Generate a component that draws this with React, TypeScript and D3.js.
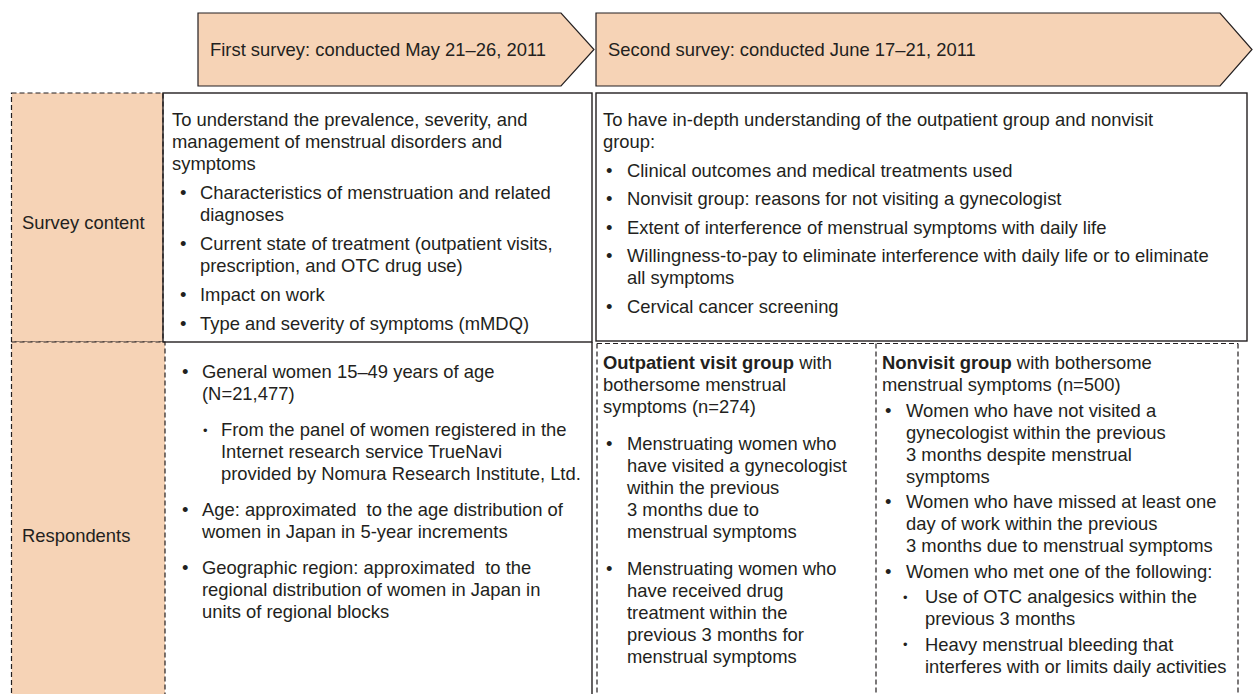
import { useEffect, useRef } from "react";
import * as d3 from "d3";

type Para = { kind: "intro" | "head" | "bullet" | "sub"; lines: string[]; bold?: string };

const ARROW_LABELS = [
  "First survey: conducted May 21–26, 2011",
  "Second survey: conducted June 17–21, 2011",
];

const ROW_LABELS = ["Survey content", "Respondents"];

const FIRST_CONTENT: Para[] = [
  {
    kind: "intro",
    lines: [
      "To understand the prevalence, severity, and",
      "management of menstrual disorders and",
      "symptoms",
    ],
  },
  { kind: "bullet", lines: ["Characteristics of menstruation and related", "diagnoses"] },
  {
    kind: "bullet",
    lines: ["Current state of treatment (outpatient visits,", "prescription, and OTC drug use)"],
  },
  { kind: "bullet", lines: ["Impact on work"] },
  { kind: "bullet", lines: ["Type and severity of symptoms (mMDQ)"] },
];

const SECOND_CONTENT: Para[] = [
  {
    kind: "intro",
    lines: ["To have in-depth understanding of the outpatient group and nonvisit", "group:"],
  },
  { kind: "bullet", lines: ["Clinical outcomes and medical treatments used"] },
  { kind: "bullet", lines: ["Nonvisit group: reasons for not visiting a gynecologist"] },
  { kind: "bullet", lines: ["Extent of interference of menstrual symptoms with daily life"] },
  {
    kind: "bullet",
    lines: [
      "Willingness-to-pay to eliminate interference with daily life or to eliminate",
      "all symptoms",
    ],
  },
  { kind: "bullet", lines: ["Cervical cancer screening"] },
];

const FIRST_RESPONDENTS: Para[] = [
  { kind: "bullet", lines: ["General women 15–49 years of age", "(N=21,477)"] },
  {
    kind: "sub",
    lines: [
      "From the panel of women registered in the",
      "Internet research service TrueNavi",
      "provided by Nomura Research Institute, Ltd.",
    ],
  },
  {
    kind: "bullet",
    lines: ["Age: approximated  to the age distribution of", "women in Japan in 5-year increments"],
  },
  {
    kind: "bullet",
    lines: [
      "Geographic region: approximated  to the",
      "regional distribution of women in Japan in",
      "units of regional blocks",
    ],
  },
];

const OUTPATIENT: Para[] = [
  {
    kind: "head",
    bold: "Outpatient visit group",
    lines: ["Outpatient visit group with", "bothersome menstrual", "symptoms (n=274)"],
  },
  {
    kind: "bullet",
    lines: [
      "Menstruating women who",
      "have visited a gynecologist",
      "within the previous",
      "3 months due to",
      "menstrual symptoms",
    ],
  },
  {
    kind: "bullet",
    lines: [
      "Menstruating women who",
      "have received drug",
      "treatment within the",
      "previous 3 months for",
      "menstrual symptoms",
    ],
  },
];

const NONVISIT: Para[] = [
  {
    kind: "head",
    bold: "Nonvisit group",
    lines: ["Nonvisit group with bothersome", "menstrual symptoms (n=500)"],
  },
  {
    kind: "bullet",
    lines: [
      "Women who have not visited a",
      "gynecologist within the previous",
      "3 months despite menstrual",
      "symptoms",
    ],
  },
  {
    kind: "bullet",
    lines: [
      "Women who have missed at least one",
      "day of work within the previous",
      "3 months due to menstrual symptoms",
    ],
  },
  { kind: "bullet", lines: ["Women who met one of the following:"] },
  { kind: "sub", lines: ["Use of OTC analgesics within the", "previous 3 months"] },
  {
    kind: "sub",
    lines: ["Heavy menstrual bleeding that", "interferes with or limits daily activities"],
  },
];

const W = 1255;
const H = 694;
const FONT = "'Liberation Sans', Arial, Helvetica, sans-serif";
const FS = 18.4;
const INK = "#231f20";
const PEACH = "#f6d3b6";

export default function App() {
  const ref = useRef<SVGSVGElement | null>(null);

  useEffect(() => {
    const svg = d3.select(ref.current);
    svg.selectAll("*").remove();

    // arrows along the top
    const arrows = [
      { x0: 198, x1: 561, tip: 594 },
      { x0: 596, x1: 1220, tip: 1252 },
    ];
    const aTop = 13;
    const aBot = 86;
    const aMid = (aTop + aBot) / 2;
    arrows.forEach((a, i) => {
      svg
        .append("path")
        .attr(
          "d",
          `M${a.x0},${aTop}L${a.x1},${aTop}L${a.tip},${aMid}L${a.x1},${aBot}L${a.x0},${aBot}Z`,
        )
        .attr("fill", PEACH)
        .attr("stroke", INK)
        .attr("stroke-width", 1.2);
      svg
        .append("text")
        .attr("x", a.x0 + 12)
        .attr("y", aMid)
        .attr("dy", "0.35em")
        .attr("font-family", FONT)
        .attr("font-size", FS)
        .attr("fill", INK)
        .text(ARROW_LABELS[i]);
    });

    const rowTop = 93;
    const rowMid = 342;

    // left label column (dashed, peach)
    const dash = "5,3";
    [
      { y0: rowTop, y1: rowMid, x1: 163 },
      { y0: rowMid, y1: H + 30, x1: 165 },
    ].forEach((r) => {
      svg
        .append("rect")
        .attr("x", 11.5)
        .attr("y", r.y0)
        .attr("width", r.x1 - 11.5)
        .attr("height", r.y1 - r.y0)
        .attr("fill", PEACH)
        .attr("stroke", INK)
        .attr("stroke-width", 1.2)
        .attr("stroke-dasharray", dash);
    });
    svg
      .selectAll("text.rowlab")
      .data(ROW_LABELS)
      .join("text")
      .attr("class", "rowlab")
      .attr("x", 22)
      .attr("y", (_d, i) => (i === 0 ? 223 : 536))
      .attr("dy", "0.35em")
      .attr("font-family", FONT)
      .attr("font-size", FS)
      .attr("fill", INK)
      .text((d) => d);

    // solid boxes
    svg
      .append("rect")
      .attr("x", 163)
      .attr("y", rowTop)
      .attr("width", 592 - 163)
      .attr("height", rowMid - rowTop)
      .attr("fill", "none")
      .attr("stroke", INK)
      .attr("stroke-width", 1.4);
    svg
      .append("rect")
      .attr("x", 596)
      .attr("y", rowTop)
      .attr("width", 1247 - 596)
      .attr("height", 341 - rowTop)
      .attr("fill", "none")
      .attr("stroke", INK)
      .attr("stroke-width", 1.4);
    svg
      .append("line")
      .attr("x1", 592)
      .attr("x2", 592)
      .attr("y1", rowMid)
      .attr("y2", H + 10)
      .attr("stroke", INK)
      .attr("stroke-width", 1.4);

    // dashed respondents boxes on the right
    const dashed = (x1: number, y1: number, x2: number, y2: number) =>
      svg
        .append("line")
        .attr("x1", x1)
        .attr("y1", y1)
        .attr("x2", x2)
        .attr("y2", y2)
        .attr("stroke", INK)
        .attr("stroke-width", 1.2)
        .attr("stroke-dasharray", dash);
    dashed(597, 343.5, 1238, 343.5);
    [597, 876, 1238].forEach((x) => dashed(x, 343.5, x, H + 10));

    // text blocks
    const blocks = [
      { paras: FIRST_CONTENT, x: 172, bx: 180, tx: 200, sbx: 203, stx: 221, y0: 120, lh: 22, gap: 7 },
      { paras: SECOND_CONTENT, x: 603, bx: 606, tx: 627, sbx: 630, stx: 648, y0: 120, lh: 22, gap: 6.5 },
      { paras: FIRST_RESPONDENTS, x: 172, bx: 182, tx: 202, sbx: 203, stx: 221, y0: 372, lh: 22, gap: 14 },
      { paras: OUTPATIENT, x: 603, bx: 606, tx: 627, sbx: 630, stx: 648, y0: 363, lh: 22, gap: 15 },
      { paras: NONVISIT, x: 882, bx: 885, tx: 906, sbx: 903, stx: 925, y0: 363, lh: 22, gap: 3.5 },
    ];

    blocks.forEach((b) => {
      const g = svg
        .append("g")
        .attr("font-family", FONT)
        .attr("font-size", FS)
        .attr("fill", INK);
      let y = b.y0;
      b.paras.forEach((p, pi) => {
        if (pi > 0) y += b.gap;
        const textX = p.kind === "bullet" ? b.tx : p.kind === "sub" ? b.stx : b.x;
        if (p.kind === "bullet" || p.kind === "sub") {
          g.append("text")
            .attr("x", p.kind === "bullet" ? b.bx : b.sbx)
            .attr("y", y)
            .attr("dy", "0.35em")
            .attr("font-size", p.kind === "bullet" ? FS : FS * 0.7)
            .text("•");
        }
        p.lines.forEach((line, li) => {
          const t = g
            .append("text")
            .attr("x", textX)
            .attr("y", y)
            .attr("dy", "0.35em")
            .attr("xml:space", "preserve")
            .style("white-space", "pre");
          if (li === 0 && p.bold && line.startsWith(p.bold)) {
            t.append("tspan").attr("font-weight", "bold").text(p.bold);
            t.append("tspan").text(line.slice(p.bold.length));
          } else {
            t.text(line);
          }
          y += b.lh;
        });
      });
    });
  }, []);

  return (
    <svg
      ref={ref}
      width={W}
      height={H}
      style={{ position: "absolute", left: 0, top: 0, background: "#fff" }}
    />
  );
}
